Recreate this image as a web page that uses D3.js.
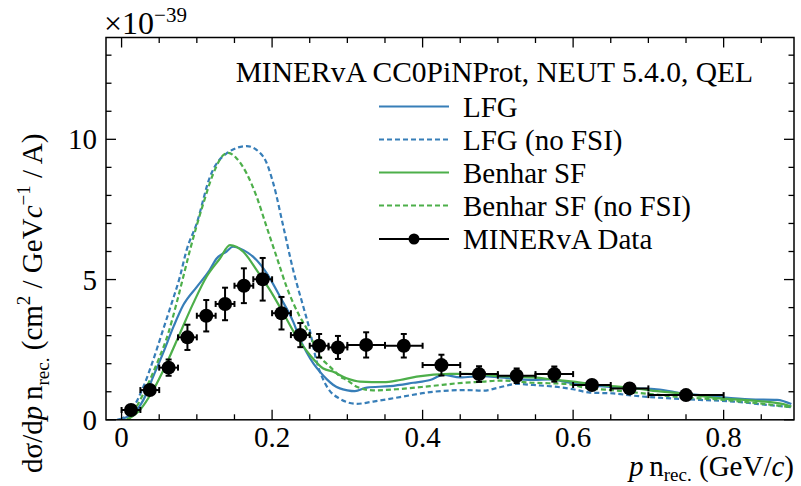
<!DOCTYPE html>
<html><head><meta charset="utf-8">
<script src="https://cdn.jsdelivr.net/npm/d3@7"></script>
<style>
body{margin:0;background:#fff;}
svg text{font-family:"Liberation Serif","Times New Roman",serif;fill:#000;}
</style></head>
<body><svg id="c" width="801" height="486"></svg>
<script>
// ---- data (units of 1e-39) ----
const dataX    = [0.0125,0.0375,0.0625,0.0875,0.1125,0.1375,0.1625,0.1875,0.2125,0.2375,0.2625,0.2875,0.325,0.375,0.425,0.475,0.525,0.575,0.625,0.675,0.75];
const dataXErr = [0.0125,0.0125,0.0125,0.0125,0.0125,0.0125,0.0125,0.0125,0.0125,0.0125,0.0125,0.0125,0.025,0.025,0.025,0.025,0.025,0.025,0.025,0.025,0.05];
const dataY    = [0.35,1.06,1.86,2.94,3.71,4.13,4.78,5.01,3.80,3.02,2.64,2.58,2.67,2.64,1.95,1.63,1.57,1.63,1.24,1.12,0.88];
const dataYErr = [0.15,0.15,0.29,0.45,0.56,0.58,0.62,0.76,0.58,0.43,0.42,0.41,0.45,0.42,0.37,0.28,0.26,0.27,0.15,0.12,0.10];

const lfgX = [-0.006,0.0156,0.029,0.042,0.055,0.069,0.082,0.1,0.117,0.1263,0.1395,0.148,0.162,0.175,0.193,0.2105,0.228,0.2375,0.246,0.255,0.264,0.2725,0.281,0.29,0.3,0.31,0.326,0.357,0.3875,0.41,0.4275,0.45,0.48,0.503,0.547,0.569,0.6,0.636,0.68,0.711,0.746,0.791,0.835,0.871,0.89];
const lfgY = [0,0.23,0.71,1.54,2.37,3.32,4.09,4.74,5.34,5.75,6.0,6.17,6.05,5.81,5.22,4.39,3.5,2.85,2.4,2.0,1.7,1.45,1.25,1.12,1.05,1.02,1.15,1.2,1.32,1.42,1.6,1.51,1.56,1.51,1.42,1.44,1.3,1.2,1.12,1.09,0.94,0.82,0.73,0.71,0.56];

const lfgNoFsiX = [-0.002,0.0134,0.029,0.042,0.055,0.0665,0.0775,0.0864,0.0998,0.1174,0.1396,0.1662,0.1883,0.2016,0.215,0.228,0.2415,0.25,0.259,0.2725,0.29,0.3124,0.3344,0.37,0.414,0.4585,0.4806,0.5027,0.525,0.547,0.5825,0.6,0.6223,0.6533,0.68,0.7243,0.7686,0.813,0.8573,0.89];
const lfgNoFsiY = [0,0.35,1.18,2.13,3.2,4.15,5.1,6.05,7.0,8.66,9.5,9.76,9.38,8.43,6.88,5.34,4.03,3.2,2.1,1.2,0.75,0.57,0.65,0.81,1.0,1.06,1.04,1.16,1.28,1.24,1.16,1.09,0.97,0.94,0.86,0.77,0.71,0.65,0.53,0.45];

const sfX = [0.0067,0.0244,0.042,0.0598,0.0775,0.0952,0.1129,0.1307,0.144,0.1617,0.1795,0.197,0.215,0.2326,0.2503,0.268,0.2813,0.299,0.3168,0.348,0.37,0.392,0.4363,0.4585,0.5027,0.547,0.578,0.6,0.6357,0.68,0.702,0.7464,0.791,0.835,0.8795,0.89];
const sfY = [0,0.35,1.06,2.01,3.08,4.15,5.1,5.75,6.23,5.99,5.34,4.63,3.8,2.96,2.31,1.83,1.71,1.48,1.36,1.34,1.42,1.54,1.64,1.64,1.56,1.51,1.42,1.36,1.24,1.13,1.05,0.93,0.77,0.69,0.56,0.47];

const sfNoFsiX = [0.009,0.02,0.0334,0.0488,0.062,0.073,0.082,0.0909,0.1086,0.1219,0.1352,0.1418,0.1529,0.1662,0.1795,0.1927,0.206,0.2193,0.237,0.246,0.2548,0.2636,0.2725,0.2813,0.29,0.299,0.3124,0.3344,0.3655,0.41,0.454,0.4806,0.5027,0.547,0.5913,0.6135,0.6578,0.7021,0.7464,0.791,0.835,0.89];
const sfNoFsiY = [0,0.47,1.18,2.13,3.08,4.15,5.1,6.05,7.71,8.78,9.44,9.52,9.32,8.78,7.95,6.88,5.81,4.74,3.67,3.25,2.75,2.25,2.0,1.78,1.55,1.42,1.18,1.05,1.09,1.2,1.32,1.36,1.4,1.32,1.28,1.16,1.04,0.92,0.8,0.73,0.62,0.45];

const xTicks = [0,0.2,0.4,0.6,0.8];
const yTicks = [0,5,10];
const legendTitle = "MINERvA CC0PiNProt, NEUT 5.4.0, QEL";
const seriesNames = ["LFG","LFG (no FSI)","Benhar SF","Benhar SF (no FSI)","MINERvA Data"];

// ---- layout ----
const L=106, R=794, T=37.5, B=419.8;
const BLUE="#377eb8", GREEN="#4daf4a";
const x = d3.scaleLinear().domain([-0.0207,0.8935]).range([L,R]);
const y = d3.scaleLinear().domain([0,13.63]).range([B,T]);
const svg = d3.select("#c");

svg.append("defs").append("clipPath").attr("id","clip")
  .append("rect").attr("x",L).attr("y",T).attr("width",R-L).attr("height",B-T);

// curves
const line = d3.line().x(d=>x(d[0])).y(d=>y(d[1])).curve(d3.curveMonotoneX);
const curves = [
  {xs:lfgX, ys:lfgY, c:BLUE, dash:null},
  {xs:lfgNoFsiX, ys:lfgNoFsiY, c:BLUE, dash:"5,3"},
  {xs:sfX, ys:sfY, c:GREEN, dash:null},
  {xs:sfNoFsiX, ys:sfNoFsiY, c:GREEN, dash:"5,3"}
];
const cg = svg.append("g").attr("clip-path","url(#clip)");
curves.forEach(s=>{
  cg.append("path").datum(d3.zip(s.xs,s.ys)).attr("d",line)
    .attr("fill","none").attr("stroke",s.c).attr("stroke-width",2.2)
    .attr("stroke-dasharray",s.dash);
});

// data points
const pts = dataX.map((v,i)=>({x:v,y:dataY[i],ex:dataXErr[i],ey:dataYErr[i]}));
const dg = svg.append("g").attr("stroke","#000").attr("stroke-width",2);
const cap=3;
pts.forEach(p=>{
  const px=x(p.x), py=y(p.y);
  const x1=x(p.x-p.ex), x2=x(p.x+p.ex), y1=y(p.y-p.ey), y2=y(p.y+p.ey);
  dg.append("line").attr("x1",x1).attr("x2",x2).attr("y1",py).attr("y2",py);
  dg.append("line").attr("x1",x1).attr("x2",x1).attr("y1",py-cap).attr("y2",py+cap);
  dg.append("line").attr("x1",x2).attr("x2",x2).attr("y1",py-cap).attr("y2",py+cap);
  dg.append("line").attr("x1",px).attr("x2",px).attr("y1",y1).attr("y2",y2);
  dg.append("line").attr("x1",px-cap).attr("x2",px+cap).attr("y1",y1).attr("y2",y1);
  dg.append("line").attr("x1",px-cap).attr("x2",px+cap).attr("y1",y2).attr("y2",y2);
});
svg.append("g").selectAll("circle").data(pts).join("circle")
  .attr("cx",d=>x(d.x)).attr("cy",d=>y(d.y)).attr("r",7).attr("fill","#000");

// frame & ticks
svg.append("rect").attr("x",L).attr("y",T).attr("width",R-L).attr("height",B-T)
  .attr("fill","none").attr("stroke","#000").attr("stroke-width",1.5);

const xMinor = d3.range(0,0.9,0.05);
const yMinor = d3.range(0,14,1);
const tg = svg.append("g").attr("stroke","#000").attr("stroke-width",1.3);
xMinor.forEach(v=>{
  const major = xTicks.some(t=>Math.abs(t-v)<1e-6);
  const len = major?10:5.5;
  tg.append("line").attr("x1",x(v)).attr("x2",x(v)).attr("y1",B).attr("y2",B-len);
  tg.append("line").attr("x1",x(v)).attr("x2",x(v)).attr("y1",T).attr("y2",T+len);
});
yMinor.forEach(v=>{
  const major = yTicks.includes(v);
  const len = major?10:5.5;
  tg.append("line").attr("y1",y(v)).attr("y2",y(v)).attr("x1",L).attr("x2",L+len);
  tg.append("line").attr("y1",y(v)).attr("y2",y(v)).attr("x1",R).attr("x2",R-len);
});

// tick labels
const FS=29;
svg.append("g").selectAll("text").data(xTicks).join("text")
  .attr("x",d=>x(d)).attr("y",447).attr("text-anchor","middle")
  .attr("font-size",FS).text(d=>d===0?"0":d3.format(".1f")(d));
svg.append("g").selectAll("text").data(yTicks).join("text")
  .attr("x",97).attr("y",d=>y(d)).attr("dy","0.35em").attr("text-anchor","end")
  .attr("font-size",FS).text(d=>d);

// exponent
const ex = svg.append("text").attr("x",104).attr("y",34).attr("font-size",32);
ex.append("tspan").text("\u00d710");
ex.append("tspan").attr("dy",-12).attr("font-size",21).text("\u221239");

// x-axis title
const xt = svg.append("text").attr("x",R).attr("y",476).attr("text-anchor","end").attr("font-size",FS);
xt.append("tspan").attr("font-style","italic").text("p");
xt.append("tspan").text("\u2009n");
xt.append("tspan").attr("dy",5).attr("font-size",19).text("rec.");
xt.append("tspan").attr("dy",-5).text(" (GeV/");
xt.append("tspan").attr("font-style","italic").text("c");
xt.append("tspan").text(")");

// y-axis title
const yt = svg.append("text").attr("transform","translate(42,473) rotate(-90)")
  .attr("text-anchor","start").attr("font-size",FS);
yt.append("tspan").text("d\u03c3/d");
yt.append("tspan").attr("font-style","italic").text("p");
yt.append("tspan").text("\u2009n");
yt.append("tspan").attr("dy",7).attr("font-size",19).text("rec.");
yt.append("tspan").attr("dy",-7).text(" (cm");
yt.append("tspan").attr("dy",-12).attr("font-size",19).text("2");
yt.append("tspan").attr("dy",12).text(" / GeV");
yt.append("tspan").attr("font-style","italic").text("c");
yt.append("tspan").attr("dy",-12).attr("font-size",19).text("\u22121");
yt.append("tspan").attr("dy",12).text(" / A)");

// legend
svg.append("text").attr("x",753).attr("y",72).attr("dy","0.35em")
  .attr("text-anchor","end").attr("font-size",29.5).text(legendTitle);
const legStyles = [
  {c:BLUE,dash:null},{c:BLUE,dash:"5,3"},{c:GREEN,dash:null},{c:GREEN,dash:"5,3"},{c:"#000",dash:null,dot:true}
];
const rowY = [106.5,139.5,172.5,205.5,239];
seriesNames.forEach((n,i)=>{
  const s=legStyles[i];
  svg.append("line").attr("x1",379).attr("x2",449).attr("y1",rowY[i]).attr("y2",rowY[i])
    .attr("stroke",s.c).attr("stroke-width",2.2).attr("stroke-dasharray",s.dash);
  if(s.dot) svg.append("circle").attr("cx",414).attr("cy",rowY[i]).attr("r",5.5).attr("fill","#000");
  svg.append("text").attr("x",463).attr("y",rowY[i]).attr("dy","0.35em").attr("font-size",FS).text(n);
});
</script></body></html>
